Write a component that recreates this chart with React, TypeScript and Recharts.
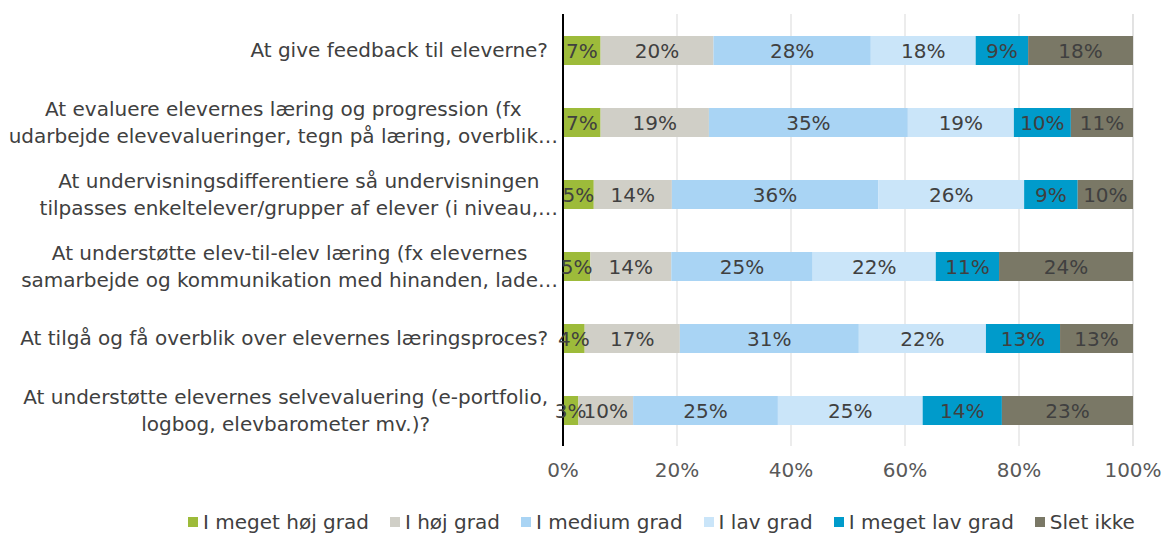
import { BarChart, Bar, XAxis, YAxis, CartesianGrid, LabelList, Legend } from "recharts";

const categories = [
  ["At give feedback til eleverne?"],
  ["At evaluere elevernes læring og progression (fx", "udarbejde elevevalueringer, tegn på læring, overblik…"],
  ["At undervisningsdifferentiere så undervisningen", "tilpasses enkeltelever/grupper af elever (i niveau,…"],
  ["At understøtte elev-til-elev læring (fx elevernes", "samarbejde og kommunikation med hinanden, lade…"],
  ["At tilgå og få overblik over elevernes læringsproces?"],
  ["At understøtte elevernes selvevaluering (e-portfolio,", "logbog, elevbarometer mv.)?"],
];

const meGetHoj = [6.6, 6.6, 5.4, 4.8, 3.8, 2.7];
const hoj = [19.8, 19.0, 13.7, 14.2, 16.7, 9.6];
const medium = [27.6, 34.9, 36.2, 24.8, 31.4, 25.4];
const lav = [18.4, 18.6, 25.6, 21.6, 22.3, 25.4];
const meGetLav = [9.2, 10.0, 9.4, 11.1, 13.0, 13.9];
const sletIkke = [18.4, 10.9, 9.7, 23.5, 12.8, 23.0];

const xTicks = [0, 20, 40, 60, 80, 100];

const series = [
  { key: "meGetHoj", name: "I meget høj grad", values: meGetHoj, color: "#9dbb3a" },
  { key: "hoj", name: "I høj grad", values: hoj, color: "#d0cfc7" },
  { key: "medium", name: "I medium grad", values: medium, color: "#a9d4f4" },
  { key: "lav", name: "I lav grad", values: lav, color: "#cae5f9" },
  { key: "meGetLav", name: "I meget lav grad", values: meGetLav, color: "#009bcb" },
  { key: "sletIkke", name: "Slet ikke", values: sletIkke, color: "#7a7866" },
];

const data = categories.map((lines, i) => {
  const row: Record<string, any> = { name: lines.join(" "), lines };
  series.forEach((s) => {
    row[s.key] = s.values[i];
  });
  return row;
});

const FONT = "'DejaVu Sans', Verdana, sans-serif";
const FS = 20;
const TEXT = "#404040";

let ctx: CanvasRenderingContext2D | null = null;
function measure(text: string) {
  if (!ctx) ctx = document.createElement("canvas").getContext("2d");
  if (!ctx) return text.length * 11;
  ctx.font = `${FS}px ${FONT}`;
  return ctx.measureText(text).width;
}

function CategoryTick(props: any) {
  const { y, payload, index } = props;
  const lines: string[] = categories[index] ?? [payload.value];
  const ellipsis = lines.some((l) => l.endsWith("…"));
  const right = ellipsis ? 558 : 548;
  const w = Math.max(...lines.map(measure));
  const cx = right - w / 2;
  const lh = 27;
  const y0 = y - ((lines.length - 1) * lh) / 2;
  return (
    <text x={cx} y={y0} textAnchor="middle" fontSize={FS} fill={TEXT} fontFamily={FONT}>
      {lines.map((l, i) => (
        <tspan key={i} x={cx} y={y0 + i * lh} dy="0.36em">
          {l}
        </tspan>
      ))}
    </text>
  );
}

function LegendContent() {
  return (
    <div style={{ display: "flex", gap: 21, fontFamily: FONT, fontSize: FS, color: TEXT, paddingLeft: 188, whiteSpace: "nowrap" }}>
      {series.map((s) => (
        <span key={s.key} style={{ display: "flex", alignItems: "center" }}>
          <span style={{ width: 10, height: 10, background: s.color, marginRight: 5, display: "inline-block" }} />
          {s.name}
        </span>
      ))}
    </div>
  );
}

export default function App() {
  return (
    <div style={{ position: "absolute", left: 0, top: 0, background: "#fff" }}>
      <BarChart
        width={1163}
        height={535}
        data={data}
        layout="vertical"
        margin={{ top: 14, right: 30, left: 0, bottom: 0 }}
        barSize={29}
      >
        <CartesianGrid horizontal={false} stroke="#d9d9d9" strokeWidth={1} />
        <XAxis
          type="number"
          domain={[0, 100]}
          ticks={xTicks}
          tickFormatter={(v) => `${v}%`}
          axisLine={false}
          tickLine={false}
          tickMargin={11}
          height={45}
          tick={{ fontSize: FS, fill: "#595959", fontFamily: FONT }}
        />
        <YAxis
          type="category"
          dataKey="name"
          width={563}
          tickLine={false}
          axisLine={{ stroke: "#000", strokeWidth: 2 }}
          tick={<CategoryTick />}
          interval={0}
        />
        <Legend
          verticalAlign="bottom"
          height={44}
          content={<LegendContent />}
          wrapperStyle={{ top: 510, left: 0, bottom: "auto" }}
        />
        {series.map((s) => (
          <Bar key={s.key} dataKey={s.key} name={s.name} stackId="a" fill={s.color} isAnimationActive={false}>
            <LabelList
              dataKey={s.key}
              position="center"
              formatter={(v: any) => `${Math.round(v)}%`}
              fill={TEXT}
              fontSize={FS}
              fontFamily={FONT}
            />
          </Bar>
        ))}
      </BarChart>
    </div>
  );
}
